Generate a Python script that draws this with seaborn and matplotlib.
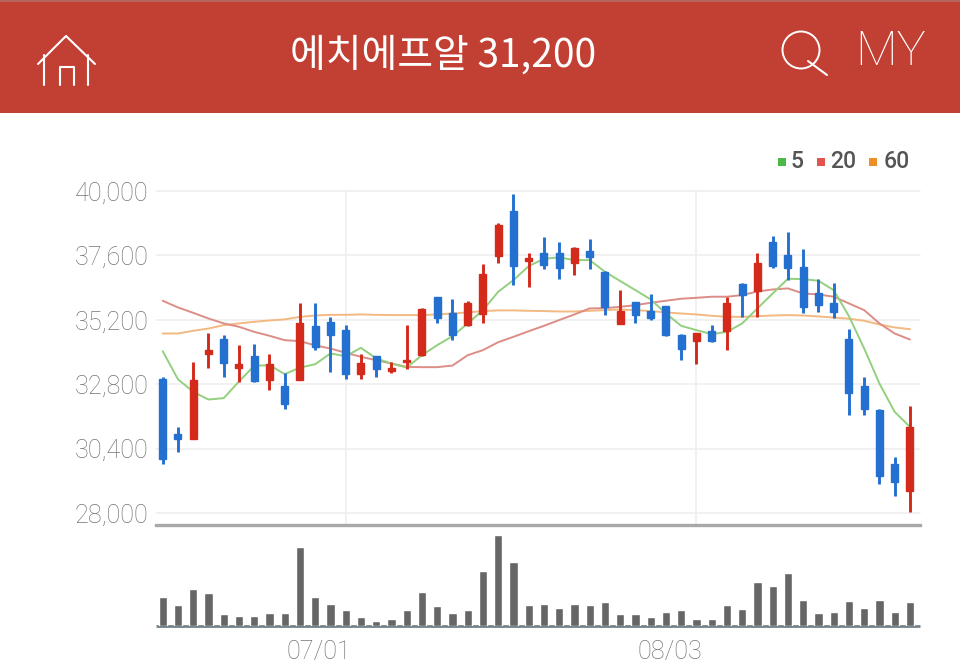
import matplotlib
matplotlib.use("Agg")
import matplotlib.pyplot as plt
import matplotlib.patches as mpatches
import numpy as np
import pandas as pd
import seaborn as sns

# ── Data ─────────────────────────────────────────────────────────────────────
opens = [33010, 30935, 30775, 33920, 34480, 33420, 33855, 32975, 32750, 32975,
         34965, 35115, 34815, 33175, 33845, 33300, 33620, 33895, 36060, 35460,
         34990, 35400, 37590, 39265, 37390, 37700, 37700, 37300, 37760, 36980,
         35040, 35845, 35510, 35700, 34650, 34415, 34790, 34790, 36520, 36255,
         38110, 37610, 37150, 36205, 35810, 34490, 32750, 31855, 29840, 28820]
closes = [30030, 30775, 32950, 34070, 33595, 33570, 32910, 33570, 32080, 35065,
          34195, 34630, 33175, 33600, 33350, 33400, 33720, 35610, 35250, 34630,
          35810, 36905, 38730, 37200, 37490, 37240, 37115, 37875, 37540, 35660,
          35510, 35385, 35285, 34640, 34130, 34690, 34415, 35810, 36110, 37300,
          37215, 37140, 35685, 35745, 35475, 32475, 31870, 29395, 29170, 31200]
highs = [33070, 31210, 33610, 34715, 34615, 34270, 34315, 33920, 33200, 35820,
         35820, 35310, 35015, 33920, 33855, 33635, 35015, 35625, 36060, 35960,
         35910, 37275, 38820, 39890, 37675, 38270, 38110, 37925, 38220, 37005,
         36305, 35870, 36160, 35710, 34665, 34715, 35015, 36035, 36555, 37675,
         38320, 38470, 37825, 36715, 36555, 34865, 33050, 31880, 30090, 32005]
lows = [29820, 30275, 30775, 33420, 33070, 32875, 32875, 32575, 31870, 32950,
        34070, 33270, 33010, 33010, 33070, 33225, 33370, 33845, 35090, 34440,
        34965, 35090, 37300, 36495, 36430, 37090, 36705, 36865, 37090, 35385,
        35040, 35090, 35190, 34590, 33685, 33570, 34380, 34070, 35310, 35310,
        37130, 36680, 35435, 35485, 35285, 31670, 31670, 29070, 28620, 28050]
ma5 = [34030, 32985, 32515, 32230, 32280, 32900, 33485, 33510, 33175, 33420,
       33545, 33945, 33845, 34155, 33760, 33570, 33420, 33880, 34255, 34590,
       35065, 35560, 36245, 36680, 37200, 37475, 37525, 37425, 37425, 36990,
       36645, 36305, 35960, 35435, 34975, 34815, 34665, 34750, 35065, 35625,
       36180, 36730, 36715, 36655, 36305, 35335, 34130, 32825, 31770, 31210]
ma20 = [35910, 35660, 35460, 35250, 35065, 34940, 34750, 34605, 34440, 34405,
        34245, 34130, 33970, 33820, 33695, 33570, 33445, 33435, 33435, 33495,
        33880, 34070, 34365, 34565, 34775, 34975, 35190, 35400, 35625, 35635,
        35685, 35745, 35835, 35910, 35985, 36020, 36060, 36060, 36120, 36255,
        36330, 36370, 36180, 36145, 36060, 35810, 35560, 35065, 34690, 34465]
ma60 = [34690, 34690, 34790, 34875, 35000, 35065, 35125, 35175, 35215, 35310,
        35360, 35385, 35385, 35400, 35385, 35375, 35375, 35375, 35400, 35435,
        35475, 35525, 35550, 35550, 35535, 35525, 35510, 35510, 35535, 35560,
        35585, 35560, 35525, 35475, 35435, 35400, 35350, 35310, 35310, 35335,
        35360, 35375, 35360, 35325, 35285, 35240, 35165, 35025, 34915, 34850]
volume = [88, 63, 112, 99, 35, 31, 31, 39, 39, 237, 87, 67, 47, 27, 14, 22, 47,
          103, 59, 39, 47, 164, 273, 192, 63, 67, 55, 67, 63, 71, 35, 35, 27, 43,
          47, 22, 22, 63, 51, 132, 119, 160, 79, 39, 43, 75, 55, 79, 43, 71]
price_ticks = [28000, 30400, 32800, 35200, 37600, 40000]
date_ticks = [12, 35]
date_labels = ["07/01", "08/03"]
ma_periods = ["5", "20", "60"]
title = "에치에프알 31,200"

# ── Style ────────────────────────────────────────────────────────────────────
UP = "#d42a1c"
DOWN = "#2470d0"
HEADER = "#c24033"
GRID = "#eeeeee"
LABEL = "#757575"
MA_COLORS = {"5": "#93d07e", "20": "#dc8e86", "60": "#f3b981"}
LEGEND_COLORS = ["#4db848", "#e2554e", "#ef8f25"]

sns.set_theme(style="white")
plt.rcParams["font.family"] = ["Roboto", "Noto Sans CJK KR", "DejaVu Sans"]

W, H = 960, 665
fig = plt.figure(figsize=(W / 100, H / 100), dpi=100, facecolor="white")


def px_axes(left, top, right, bottom):
    return fig.add_axes([left / W, 1 - bottom / H, (right - left) / W, (bottom - top) / H])


x = np.arange(len(opens))
xlim = (-0.44, 49.66)

# ── Price panel ──────────────────────────────────────────────────────────────
ax = px_axes(156, 191, 920, 525)
ax.set_xlim(*xlim)
ax.set_ylim(27553, 40000)

for tick in price_ticks:
    ax.axhline(tick, color=GRID, lw=1.1, zorder=0, clip_on=False)
for tick in date_ticks:
    ax.axvline(tick, color=GRID, lw=1.1, zorder=0)

ma_df = pd.DataFrame({"x": x, "5": ma5, "20": ma20, "60": ma60}).melt(
    id_vars="x", var_name="period", value_name="price")
sns.lineplot(data=ma_df, x="x", y="price", hue="period", palette=MA_COLORS,
             hue_order=ma_periods[::-1], lw=1.4, legend=False, ax=ax, zorder=2)

colors = [UP if c >= o else DOWN for o, c in zip(opens, closes)]
ax.vlines(x, lows, highs, colors=colors, lw=2.1, zorder=3)
bottoms = np.minimum(opens, closes)
heights = np.abs(np.array(closes) - np.array(opens))
ax.bar(x, heights, bottom=bottoms, width=0.46, color=colors, edgecolor=colors, lw=1.0, zorder=4)

ax.set_xticks([])
ax.set_yticks(price_ticks)
ax.set_yticklabels([f"{t:,}" for t in price_ticks], fontsize=18.2, color=LABEL, fontweight="light")
ax.tick_params(axis="y", length=0, pad=5.5)
ax.set_xlabel("")
ax.set_ylabel("")
ax.patch.set_alpha(0)
for name, spine in ax.spines.items():
    spine.set_visible(name == "bottom")
ax.spines["bottom"].set_color("#a9a9a9")
ax.spines["bottom"].set_linewidth(2.4)

# ── Volume panel ─────────────────────────────────────────────────────────────
vol_ax = px_axes(156, 529, 920, 626)
sns.barplot(x=x, y=volume, native_scale=True, color="#666666", width=0.54,
            saturation=1, ax=vol_ax, zorder=3)
vol_ax.set_xlim(*xlim)
vol_ax.set_ylim(0, 291)
vol_ax.set_yticks([])
vol_ax.set_xticks(date_ticks)
vol_ax.set_xticklabels([])
vol_ax.tick_params(axis="x", length=7, width=0.8, color="#b5b5b5")
# the date labels sit left of their ticks in this chart
for tick, label in zip(date_ticks, date_labels):
    vol_ax.annotate(label, (tick, 0), xytext=(-19, -24), textcoords="offset points",
                    ha="center", va="baseline", fontsize=18.2, color=LABEL, fontweight="light",
                    annotation_clip=False)
vol_ax.set_xlabel("")
vol_ax.set_ylabel("")
vol_ax.patch.set_alpha(0)
for name, spine in vol_ax.spines.items():
    spine.set_visible(name == "bottom")
    spine.set_capstyle("butt")
vol_ax.spines["bottom"].set_color("#77838a")
vol_ax.spines["bottom"].set_linewidth(2)

# ── Header bar, icons, legend (drawn in pixel coordinates) ───────────────────
top = fig.add_axes([0, 0, 1, 1], zorder=5)
top.set_xlim(0, W)
top.set_ylim(H, 0)
top.axis("off")
top.add_patch(mpatches.Rectangle((0, 0), W, 113, color=HEADER, lw=0))
top.add_patch(mpatches.Rectangle((0, 0), W, 1.5, color="#b5655c", lw=0))

top.text(443, 56, title, color="white", fontsize=28, ha="center", va="center",
         family=["Noto Sans CJK KR", "Roboto"], fontweight="medium")
top.text(891, 52, "MY", color="white", fontsize=35, ha="center", va="center",
         fontweight="ultralight")

for xs, ys in [([38, 66, 95], [64, 36, 64]), ([44, 44], [55, 85]), ([88, 88], [55, 85]),
               ([59.5, 59.5, 73.5, 73.5], [85, 67, 67, 85]), ([808, 827], [61, 75])]:
    top.plot(xs, ys, color="white", lw=1.5, solid_capstyle="round")
top.add_patch(mpatches.Circle((801, 50), 18.5, fill=False, ec="white", lw=1.4))

for sq_x, color, label, txt_x in zip([778, 817, 869], LEGEND_COLORS, ma_periods, [791, 830, 884]):
    top.add_patch(mpatches.Rectangle((sq_x, 158), 8, 8, color=color, lw=0))
    top.text(txt_x, 162, label, color="#555555", fontsize=16.5, ha="left", va="center",
             fontweight="medium")

fig.savefig("out.png", dpi=100, facecolor="white")
